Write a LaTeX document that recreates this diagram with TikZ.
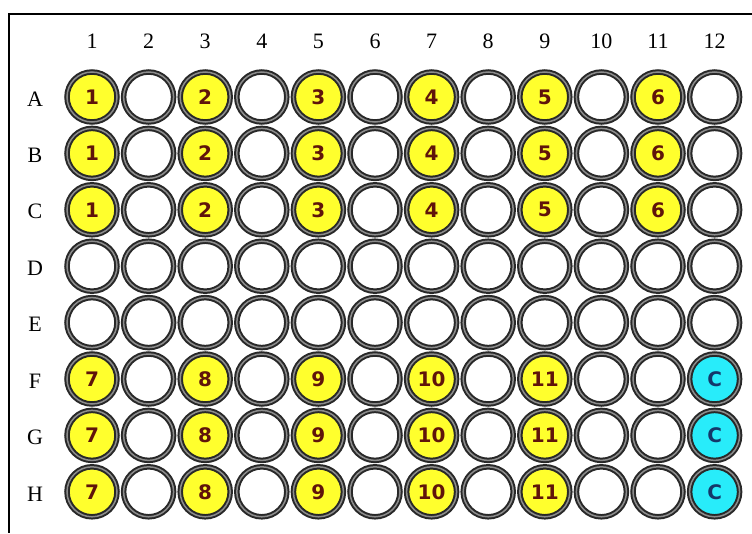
\documentclass[tikz,border=0pt]{standalone}
\usepackage{fontspec}
\setmainfont{Liberation Serif}
\newfontfamily\wellfont{DejaVu Sans}
\definecolor{wellyellow}{RGB}{255,255,45}
\definecolor{wellcyan}{RGB}{40,236,250}
\definecolor{numred}{RGB}{95,20,10}
\definecolor{numblue}{RGB}{20,55,105}
\definecolor{ringdark}{RGB}{40,40,40}
\definecolor{ringlight}{RGB}{140,140,140}
\tikzset{
  well/.style={circle, minimum size=50pt, inner sep=0pt, draw=ringdark, line width=2pt,
    double=ringlight, double distance=1.5pt, fill=white},
  ywell/.style={well, fill=wellyellow, text=numred, font=\wellfont\bfseries\fontsize{20}{20}\selectfont},
  cwell/.style={well, fill=wellcyan, text=numblue, font=\wellfont\bfseries\fontsize{20}{20}\selectfont},
  lab/.style={font=\fontsize{22}{22}\selectfont, text=black, inner sep=0pt},
  frame/.style={line width=2.6pt, black}
}
\begin{document}
\begin{tikzpicture}[x=1pt,y=-1pt]
\useasboundingbox (0,0) rectangle (752,533);
\coordinate (tl) at (9,14);
\coordinate (tr) at (752,14);
\coordinate (bl) at (9,533);
\draw[frame] (tr) -- (tl) -- (bl);
% column labels
\foreach \c in {1,...,12} {
  \node[lab] (col\c) at ({92+56.6*(\c-1)},41) {\c};
}
% row labels
\foreach \r [count=\i] in {A,B,C,D,E,F,G,H} {
  \node[lab] (row\r) at (35,{99+56.4*(\i-1)}) {\r};
}
% wells
\foreach \r [count=\i] in {A,B,C,D,E,F,G,H} {
  \foreach \c in {1,...,12} {
    \pgfmathtruncatemacro{\isodd}{mod(\c,2)}
    \pgfmathtruncatemacro{\grp}{(\c+1)/2}
    \ifnum\i<4
      \ifnum\isodd=1
        \node[ywell] (w\r\c) at ({92+56.6*(\c-1)},{97+56.4*(\i-1)}) {\grp};
      \else
        \node[well] (w\r\c) at ({92+56.6*(\c-1)},{97+56.4*(\i-1)}) {};
      \fi
    \else\ifnum\i>5
      \ifnum\c=12
        \node[cwell] (w\r\c) at ({92+56.6*(\c-1)},{97+56.4*(\i-1)}) {C};
      \else\ifnum\isodd=1
        \ifnum\c<10
          \pgfmathtruncatemacro{\gg}{\grp+6}
          \node[ywell] (w\r\c) at ({92+56.6*(\c-1)},{97+56.4*(\i-1)}) {\gg};
        \else
          \node[well] (w\r\c) at ({92+56.6*(\c-1)},{97+56.4*(\i-1)}) {};
        \fi
      \else
        \node[well] (w\r\c) at ({92+56.6*(\c-1)},{97+56.4*(\i-1)}) {};
      \fi\fi
    \else
      \node[well] (w\r\c) at ({92+56.6*(\c-1)},{97+56.4*(\i-1)}) {};
    \fi\fi
  }
}
\end{tikzpicture}
\end{document}
